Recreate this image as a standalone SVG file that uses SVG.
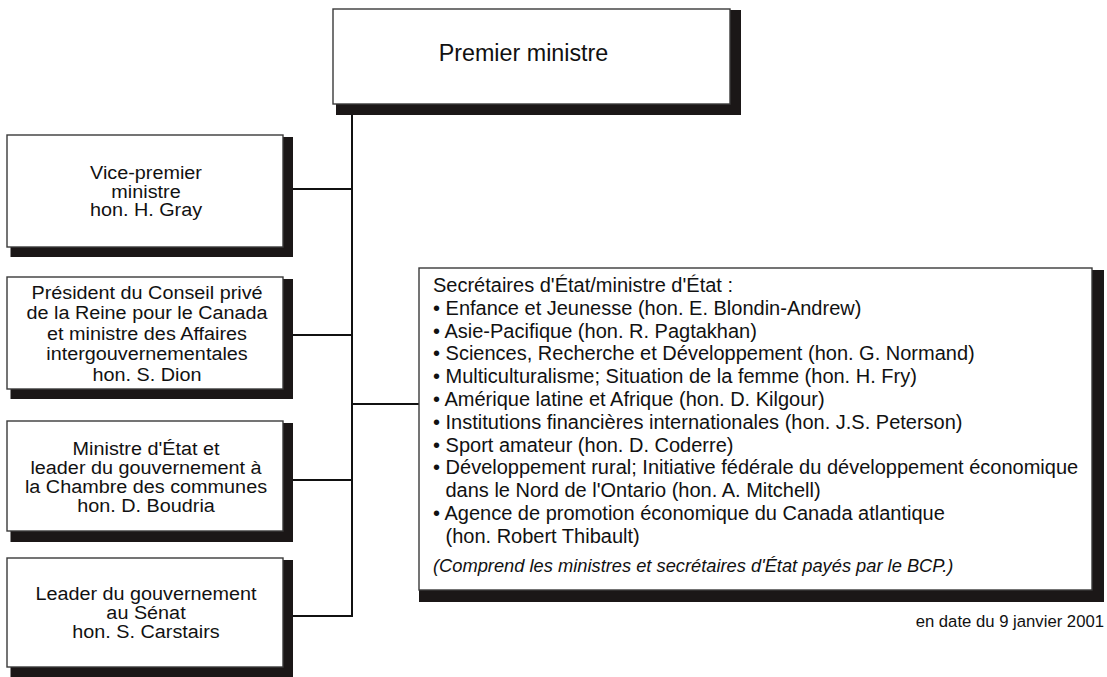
<svg xmlns="http://www.w3.org/2000/svg" width="1107" height="677" viewBox="0 0 1107 677">
<style>
.shadow{fill:#1b1717}
.box{fill:#fff;stroke:#3a3a3a;stroke-width:1.4}
.t{font-family:"Liberation Sans",Arial,sans-serif;fill:#111;font-size:20px}
.lb{font-size:18.6px;text-anchor:middle}
.c{text-anchor:middle}
.conn{stroke:#111;stroke-width:2;fill:none}
</style>
<rect width="1107" height="677" fill="#fff"/>
<g id="connectors">
<line class="conn" x1="352" y1="115" x2="352" y2="617"/>
<line class="conn" x1="293" y1="189" x2="352" y2="189"/>
<line class="conn" x1="293" y1="335" x2="352" y2="335"/>
<line class="conn" x1="352" y1="404" x2="419" y2="404"/>
<line class="conn" x1="293" y1="480" x2="352" y2="480"/>
<line class="conn" x1="293" y1="616" x2="352" y2="616"/>
</g>
<g id="premier">
<rect class="shadow" x="336" y="10" width="405" height="105"/>
<rect class="box" x="333" y="9" width="397" height="95"/>
<text class="t c" x="523.5" y="61" style="font-size:23.3px">Premier ministre</text>
</g>
<g id="vice">
<rect class="shadow" x="10.5" y="137" width="282.5" height="120"/>
<rect class="box" x="7" y="135" width="276" height="112"/>
<g transform="translate(146 0) scale(1.065 1)">
<text class="t lb" x="0" y="179.5">Vice-premier</text>
<text class="t lb" x="0" y="198">ministre</text>
<text class="t lb" x="0" y="216.5">hon. H. Gray</text>
</g>
</g>
<g id="president">
<rect class="shadow" x="10.5" y="279" width="282.5" height="120"/>
<rect class="box" x="7" y="277" width="276" height="112"/>
<g transform="translate(147 0) scale(1.065 1)">
<text class="t lb" x="0" y="298.7">Président du Conseil privé</text>
<text class="t lb" x="0" y="319.2">de la Reine pour le Canada</text>
<text class="t lb" x="0" y="339.7">et ministre des Affaires</text>
<text class="t lb" x="0" y="360.2">intergouvernementales</text>
<text class="t lb" x="0" y="380.7">hon. S. Dion</text>
</g>
</g>
<g id="leader-communes">
<rect class="shadow" x="10.5" y="423" width="282.5" height="119"/>
<rect class="box" x="7" y="421" width="276" height="110"/>
<g transform="translate(146 0) scale(1.065 1)">
<text class="t lb" x="0" y="455">Ministre d'État et</text>
<text class="t lb" x="0" y="474">leader du gouvernement à</text>
<text class="t lb" x="0" y="493">la Chambre des communes</text>
<text class="t lb" x="0" y="512">hon. D. Boudria</text>
</g>
</g>
<g id="leader-senat">
<rect class="shadow" x="10.5" y="560" width="282.5" height="117"/>
<rect class="box" x="7" y="558" width="276" height="109"/>
<g transform="translate(146 0) scale(1.065 1)">
<text class="t lb" x="0" y="600">Leader du gouvernement</text>
<text class="t lb" x="0" y="619">au Sénat</text>
<text class="t lb" x="0" y="638">hon. S. Carstairs</text>
</g>
</g>
<g id="secretaires">
<rect class="shadow" x="419" y="270" width="685" height="332"/>
<rect class="box" x="419" y="268" width="673" height="322"/>
<text class="t" x="433" y="292">Secrétaires d'État/ministre d'État :</text>
<text class="t" x="433" y="314.8">• Enfance et Jeunesse (hon. E. Blondin-Andrew)</text>
<text class="t" x="433" y="337.6">• Asie-Pacifique (hon. R. Pagtakhan)</text>
<text class="t" x="433" y="360.4">• Sciences, Recherche et Développement (hon. G. Normand)</text>
<text class="t" x="433" y="383.2">• Multiculturalisme; Situation de la femme (hon. H. Fry)</text>
<text class="t" x="433" y="406">• Amérique latine et Afrique (hon. D. Kilgour)</text>
<text class="t" x="433" y="428.8">• Institutions financières internationales (hon. J.S. Peterson)</text>
<text class="t" x="433" y="451.6">• Sport amateur (hon. D. Coderre)</text>
<text class="t" x="433" y="474.4">• Développement rural; Initiative fédérale du développement économique</text>
<text class="t" x="445.5" y="497.2">dans le Nord de l'Ontario (hon. A. Mitchell)</text>
<text class="t" x="433" y="520">• Agence de promotion économique du Canada atlantique</text>
<text class="t" x="445.5" y="542.8">(hon. Robert Thibault)</text>
<text class="t" x="433" y="572" style="font-size:18.3px;font-style:italic">(Comprend les ministres et secrétaires d'État payés par le BCP.)</text>
</g>
<text class="t" x="1104" y="627" style="font-size:16.7px;text-anchor:end">en date du 9 janvier 2001</text>
</svg>
